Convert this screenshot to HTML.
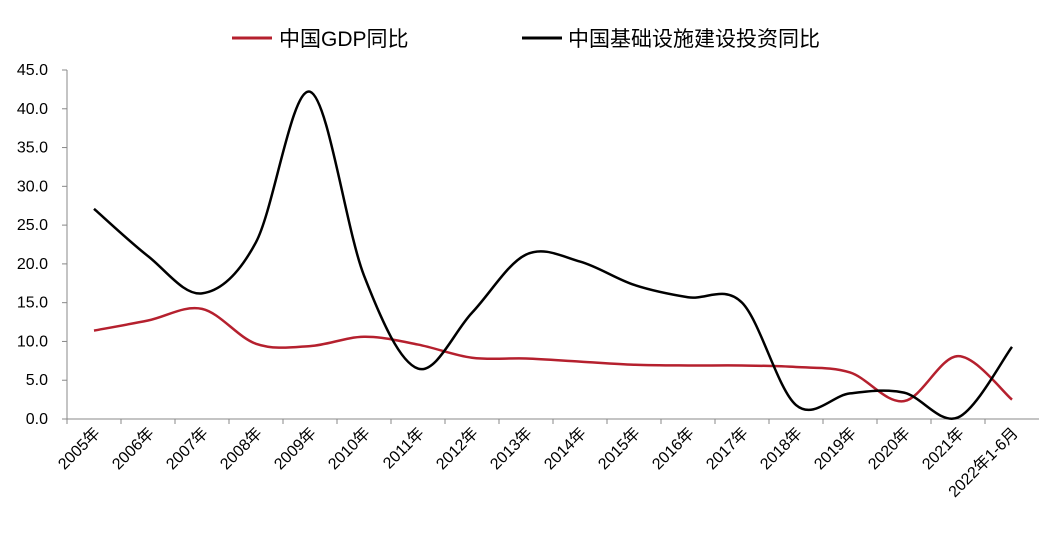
<!DOCTYPE html>
<html><head><meta charset="utf-8"><style>
body{margin:0;background:#fff;}
svg{display:block;font-family:"Liberation Sans","Noto Sans CJK SC",sans-serif;}
</style></head><body>
<svg id="chart" width="1062" height="534">
<g id="legend">
<g><line x1="232" y1="38" x2="272" y2="38" stroke="#b5202e" stroke-width="3"/><text x="279" y="46" font-size="21" fill="#000">中国GDP同比</text></g>
<g><line x1="522" y1="38" x2="562" y2="38" stroke="#000" stroke-width="3"/><text x="568" y="46" font-size="21" fill="#000">中国基础设施建设投资同比</text></g>
</g>
<g id="axes"></g>
<g id="series"></g>
</svg>
<script>
const categories=["2005年","2006年","2007年","2008年","2009年","2010年","2011年","2012年","2013年","2014年","2015年","2016年","2017年","2018年","2019年","2020年","2021年","2022年1-6月"];
const gdpValues=[11.4,12.7,14.2,9.7,9.4,10.6,9.6,7.9,7.8,7.4,7.0,6.9,6.9,6.7,6.0,2.3,8.1,2.5];
const infraValues=[27.1,21.0,16.2,22.8,42.2,18.5,6.5,13.7,21.2,20.3,17.3,15.7,15.0,1.8,3.3,3.4,0.2,9.3];
const yTicks=[0,5,10,15,20,25,30,35,40,45];
const NS="http://www.w3.org/2000/svg";
const x0=67,step=54,yBase=419,yTop=70,yMax=45;
function xPos(i){return x0+step/2+i*step;}
function yPos(v){return yBase-(v/yMax)*(yBase-yTop);}
const axes=document.getElementById('axes');
function mk(tag,attrs,parent){const e=document.createElementNS(NS,tag);for(const k in attrs)e.setAttribute(k,attrs[k]);parent.appendChild(e);return e;}
const yAxis=mk('line',{x1:x0,y1:yTop,x2:x0,y2:yBase,stroke:'#888','stroke-width':1},axes);


const xAxis=mk('line',{x1:x0,y1:yBase,x2:x0+step*categories.length,y2:yBase,stroke:'#888','stroke-width':1},axes);


yTicks.forEach(v=>{
  const t=mk('line',{x1:x0-5,y1:yPos(v),x2:x0,y2:yPos(v),stroke:'#888'},axes);
  
  
  const l=mk('text',{x:48,y:yPos(v)+5,'text-anchor':'end','font-size':16,fill:'#000'},axes);
  l.textContent=v.toFixed(1);
  
  
});
categories.forEach((c,i)=>{
  const t=mk('line',{x1:x0+i*step,y1:yBase,x2:x0+i*step,y2:yBase+5,stroke:'#888'},axes);
  
  
  const x=xPos(i)+7,y=yBase+15;
  const l=mk('text',{x:x,y:y,'text-anchor':'end','font-size':16,fill:'#000',transform:`rotate(-45 ${x} ${y})`},axes);
  l.textContent=c;
  
  
});
function smooth(vals){
  const p=vals.map((v,i)=>[xPos(i),yPos(v)]);
  let d=`M${p[0][0]},${p[0][1]}`;
  for(let i=0;i<p.length-1;i++){
    const a=p[i-1]||p[i],b=p[i],c=p[i+1],e=p[i+2]||c;
    const t=6;
    d+=` C${b[0]+(c[0]-a[0])/t},${b[1]+(c[1]-a[1])/t} ${c[0]-(e[0]-b[0])/t},${c[1]-(e[1]-b[1])/t} ${c[0]},${c[1]}`;
  }
  return d;
}
const series=document.getElementById('series');
const g1=mk('path',{d:smooth(gdpValues),fill:'none',stroke:'#b5202e','stroke-width':2.5},series);


const g2=mk('path',{d:smooth(infraValues),fill:'none',stroke:'#000','stroke-width':2.5},series);


</script>
</body></html>
